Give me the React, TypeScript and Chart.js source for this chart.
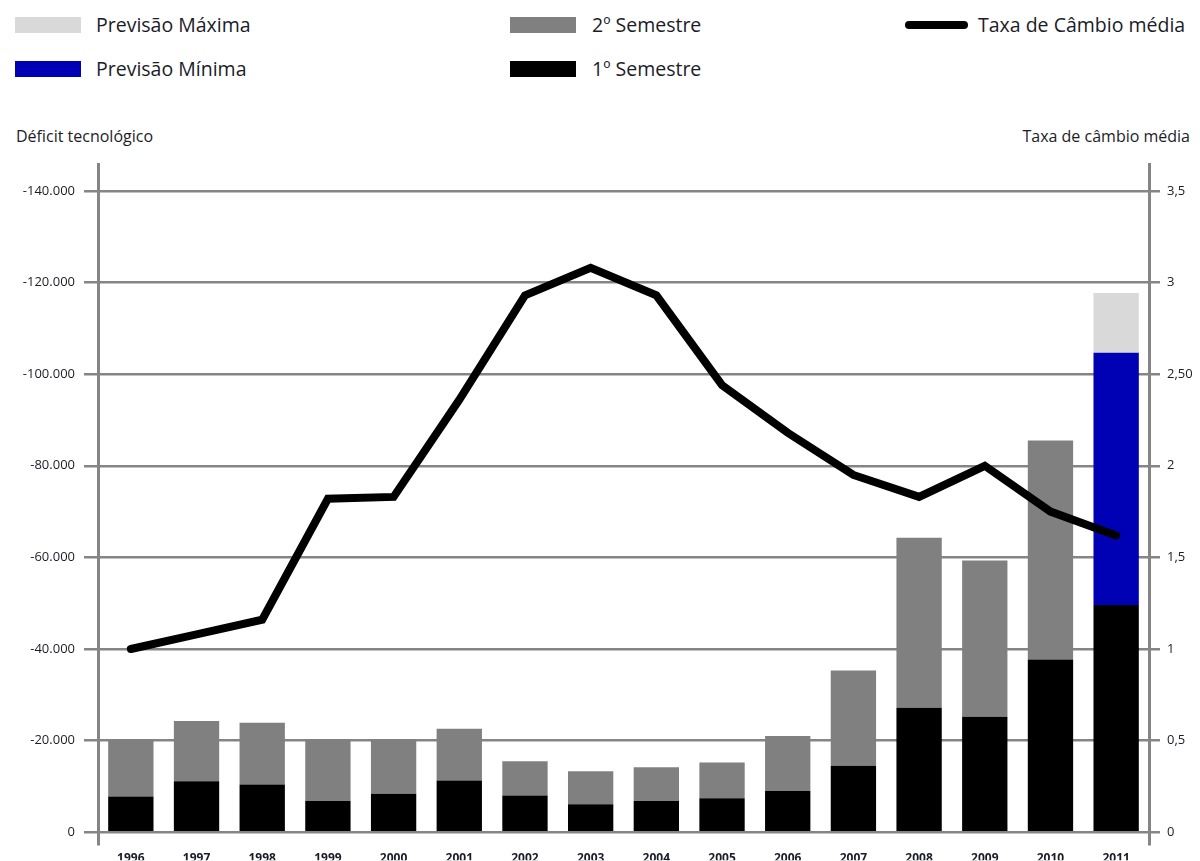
import React, { useEffect, useRef } from "react";
import { Chart, registerables } from "chart.js";

Chart.register(...registerables);

const years = ["1996", "1997", "1998", "1999", "2000", "2001", "2002", "2003", "2004", "2005", "2006", "2007", "2008", "2009", "2010", "2011"];

// Déficit tecnológico (valores negativos), por semestre
const primeiroSemestre = [-7800, -11100, -10400, -6800, -8400, -11300, -8000, -6100, -6800, -7400, -9000, -14500, -27200, -25200, -37700, -49600];
const segundoSemestre = [-12500, -13200, -13500, -13500, -11900, -11300, -7500, -7200, -7400, -7800, -12000, -20800, -37100, -34100, -47800, null];
const previsaoMinima = [null, null, null, null, null, null, null, null, null, null, null, null, null, null, null, -55100];
const previsaoMaxima = [null, null, null, null, null, null, null, null, null, null, null, null, null, null, null, -13000];

// Taxa de câmbio média
const taxaCambio = [1.0, 1.08, 1.16, 1.82, 1.83, 2.36, 2.93, 3.08, 2.93, 2.44, 2.18, 1.95, 1.83, 2.0, 1.75, 1.62];

const leftTicks = [0, -20000, -40000, -60000, -80000, -100000, -120000, -140000];
const leftTickLabels = ["0", "-20.000", "-40.000", "-60.000", "-80.000", "-100.000", "-120.000", "-140.000"];
const rightTicks = [0, 0.5, 1, 1.5, 2, 2.5, 3, 3.5];
const rightTickLabels = ["0", "0,5", "1", "1,5", "2", "2,50", "3", "3,5"];

const FONT = "'Open Sans', 'DejaVu Sans', sans-serif";
const GRID = "#858585";
const TEXT = "#1c1c28";

export default function App() {
  const ref = useRef<HTMLCanvasElement | null>(null);

  useEffect(() => {
    if (!ref.current) return;
    const chart = new Chart(ref.current, {
      type: "bar",
      data: {
        labels: years,
        datasets: [
          {
            type: "line",
            label: "Taxa de Câmbio média",
            data: taxaCambio,
            yAxisID: "y2",
            borderColor: "#000",
            borderWidth: 8,
            pointRadius: 0,
            tension: 0,
            borderCapStyle: "round",
            borderJoinStyle: "miter",
            order: 0,
          } as any,
          {
            label: "1º Semestre",
            data: primeiroSemestre,
            backgroundColor: "#000000",
            stack: "s",
            order: 1,
          },
          {
            label: "2º Semestre",
            data: segundoSemestre,
            backgroundColor: "#808080",
            stack: "s",
            order: 1,
          },
          {
            label: "Previsão Mínima",
            data: previsaoMinima,
            backgroundColor: "#0000b4",
            stack: "s",
            order: 1,
          },
          {
            label: "Previsão Máxima",
            data: previsaoMaxima,
            backgroundColor: "#d9d9d9",
            stack: "s",
            order: 1,
          },
        ],
      },
      options: {
        animation: false,
        responsive: false,
        maintainAspectRatio: false,
        layout: { padding: { top: 164, left: 0, right: 0, bottom: 0 } },
        datasets: {
          bar: { barPercentage: 0.69, categoryPercentage: 1 },
        },
        plugins: {
          legend: { display: false },
          tooltip: { enabled: false },
        },
        scales: {
          x: {
            stacked: true,
            grid: { display: false, drawTicks: false },
            border: { display: false },
            ticks: {
              padding: 7,
              color: TEXT,
              font: { family: FONT, size: 12, weight: "bold" },
              maxRotation: 0,
            },
            afterFit: (s: any) => {
              s.height = 16;
            },
          },
          y: {
            stacked: true,
            position: "left",
            reverse: true,
            min: -145888,
            max: 2617,
            afterBuildTicks: (s: any) => {
              s.ticks = leftTicks.map((v) => ({ value: v }));
            },
            ticks: {
              padding: 9,
              color: TEXT,
              font: { family: FONT, size: 13 },
              callback: (v: any) => {
                const i = leftTicks.indexOf(Number(v));
                return i >= 0 ? leftTickLabels[i] : "";
              },
            },
            grid: { color: GRID, lineWidth: 2.5, tickLength: 14 },
            border: { color: GRID, width: 3 },
            afterFit: (s: any) => {
              s.width = 98;
            },
          },
          y2: {
            position: "right",
            min: -0.0654,
            max: 3.647,
            afterBuildTicks: (s: any) => {
              s.ticks = rightTicks.map((v) => ({ value: v }));
            },
            ticks: {
              padding: 7,
              color: TEXT,
              font: { family: FONT, size: 13 },
              callback: (v: any) => {
                const i = rightTicks.indexOf(Number(v));
                return i >= 0 ? rightTickLabels[i] : "";
              },
            },
            grid: { drawOnChartArea: false, color: GRID, lineWidth: 2.5, tickLength: 11 },
            border: { color: GRID, width: 3 },
            afterFit: (s: any) => {
              s.width = 51;
            },
          },
        },
      },
    });
    return () => chart.destroy();
  }, []);

  const legendText: React.CSSProperties = {
    position: "absolute",
    fontFamily: FONT,
    fontSize: 19.5,
    color: TEXT,
    lineHeight: "22px",
    whiteSpace: "nowrap",
  };
  const swatch = (left: number, top: number, color: string): React.CSSProperties => ({
    position: "absolute",
    left,
    top,
    width: 66,
    height: 16,
    background: color,
  });
  const axisTitle: React.CSSProperties = {
    position: "absolute",
    fontFamily: FONT,
    fontSize: 16,
    color: TEXT,
    lineHeight: "20px",
    whiteSpace: "nowrap",
    top: 126,
  };

  return (
    <div style={{ position: "absolute", left: 0, top: 0, width: 1200, height: 861, background: "#fff", overflow: "hidden" }}>
      <div style={swatch(15, 17, "#d9d9d9")} />
      <div style={{ ...legendText, left: 96, top: 14 }}>Previsão Máxima</div>
      <div style={swatch(15, 61, "#0000b4")} />
      <div style={{ ...legendText, left: 96, top: 58 }}>Previsão Mínima</div>
      <div style={swatch(510, 17, "#808080")} />
      <div style={{ ...legendText, left: 592, top: 14 }}>2º Semestre</div>
      <div style={swatch(510, 61, "#000000")} />
      <div style={{ ...legendText, left: 592, top: 58 }}>1º Semestre</div>
      <div style={{ position: "absolute", left: 905, top: 21, width: 63, height: 8, borderRadius: 4, background: "#000" }} />
      <div style={{ ...legendText, left: 978, top: 14 }}>Taxa de Câmbio média</div>
      <div style={{ ...axisTitle, left: 16 }}>Déficit tecnológico</div>
      <div style={{ ...axisTitle, right: 10, textAlign: "right" }}>Taxa de câmbio média</div>
      <canvas ref={ref} width={1200} height={861} style={{ position: "absolute", left: 0, top: 0, width: 1200, height: 861 }} />
    </div>
  );
}
